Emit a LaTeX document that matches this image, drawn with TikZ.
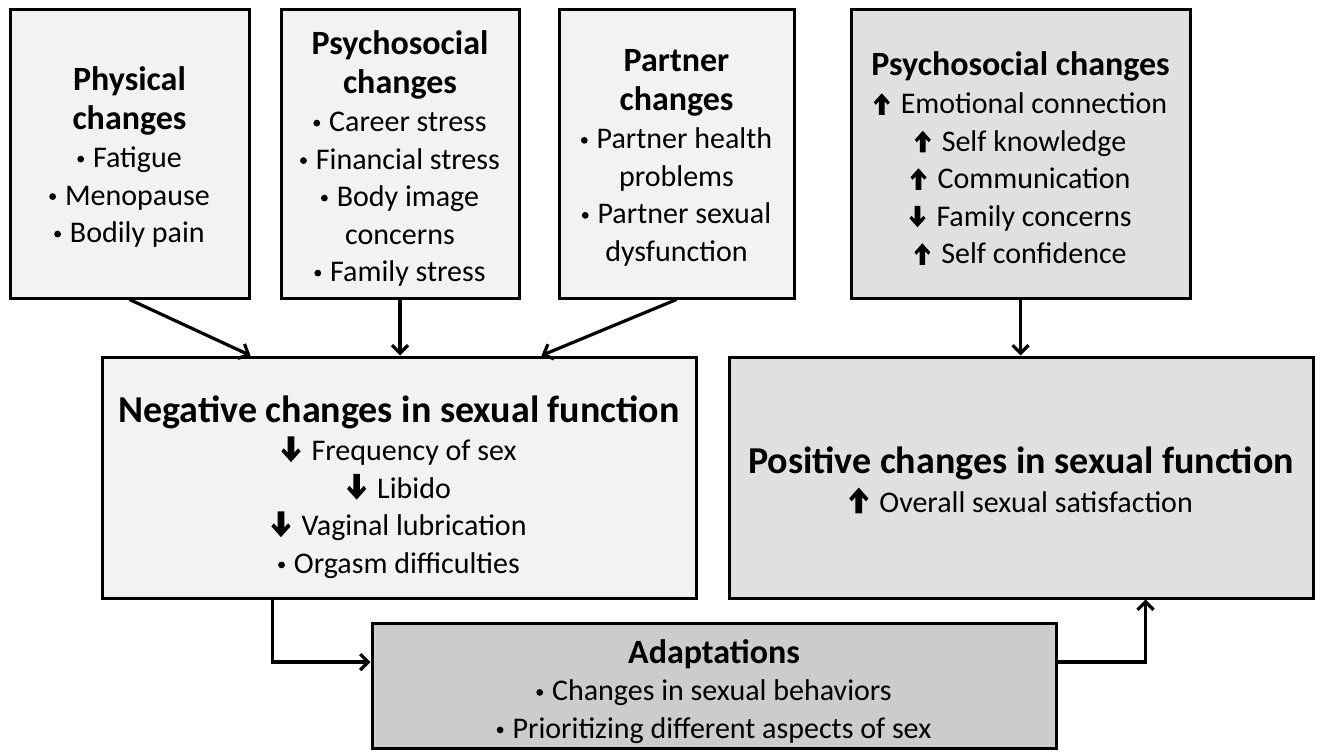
\documentclass[tikz,border=0pt]{standalone}
\usepackage{fontspec}
\setmainfont{Carlito}
\usetikzlibrary{arrows.meta}

% small bold arrows and bullets used in the lists
\newcommand{\uparr}[1][1]{\tikz[x=#1pt,y=#1pt,baseline=0pt]\fill[black] (-2.8,-1) -- (2.8,-1) -- (2.8,12.5) -- (6,9) -- (8,11.5) -- (0,20.5) -- (-8,11.5) -- (-6,9) -- (-2.8,12.5) -- cycle;\hspace{11pt}}
\newcommand{\dnarr}[1][1]{\tikz[x=#1pt,y=#1pt,baseline=0pt]\fill[black] (-2.8,20.5) -- (2.8,20.5) -- (2.8,7) -- (6,10.5) -- (8,8) -- (0,-1) -- (-8,8) -- (-6,10.5) -- (-2.8,7) -- cycle;\hspace{11pt}}
\newcommand{\bul}{\tikz[x=1pt,y=1pt,baseline=0pt]\fill[black] (0,8.5) circle (3.4);\hspace{9pt}}
\newcommand{\hd}[1]{{\fontsize{34}{40}\selectfont\bfseries #1}}
\newcommand{\bighd}[1]{{\fontsize{38}{44}\selectfont\bfseries #1}}

\begin{document}
\begin{tikzpicture}[x=1pt,y=-1pt,
  box/.style={draw,line width=3pt,inner sep=0pt,align=center,font=\fontsize{30}{37.5}\selectfont},
  link/.style={line width=3.2pt,-{Straight Barb[length=8pt,width=16pt]}}]
\definecolor{paleGray}{HTML}{F2F2F2}
\definecolor{midGray}{HTML}{E0E0E0}
\definecolor{darkGray}{HTML}{CCCCCC}
\useasboundingbox (0,0) rectangle (1321,752);

% causes
\node [box,fill=paleGray,minimum width=239pt,minimum height=288pt] (physical) at (129.5,154)
  {\rule{0pt}{30pt}\hd{Physical}\\[1pt]\hd{changes}\\[1pt]\bul Fatigue\\\bul Menopause\\\bul Bodily pain};
\node [box,fill=paleGray,minimum width=238pt,minimum height=288pt] (psychneg) at (400,154)
  {\rule{0pt}{33pt}\hd{Psychosocial}\\[1pt]\hd{changes}\\[1pt]\bul Career stress\\\bul Financial stress\\\bul Body image\\concerns\\\bul Family stress};
\node [box,fill=paleGray,minimum width=235pt,minimum height=288pt] (partner) at (676.5,154)
  {\rule{0pt}{30pt}\hd{Partner}\\[1pt]\hd{changes}\\[1pt]\bul Partner health\\problems\\\bul Partner sexual\\dysfunction};
\node [box,fill=midGray,minimum width=339pt,minimum height=288pt] (psychpos) at (1020.5,154)
  {\rule{0pt}{32pt}\hd{Psychosocial changes}\\[1pt]\uparr Emotional connection\\\uparr Self knowledge\\\uparr Communication\\\dnarr Family concerns\\\uparr Self confidence};

% outcomes
\node [box,fill=paleGray,minimum width=594pt,minimum height=241pt] (negative) at (399,477.5)
  {\rule{0pt}{46pt}\bighd{Negative changes in sexual function}\\[1pt]\dnarr[1.2]Frequency of sex\\\dnarr[1.2]Libido\\\dnarr[1.2]Vaginal lubrication\\\bul Orgasm difficulties};
\node [box,fill=midGray,minimum width=584pt,minimum height=241pt] (positive) at (1021,477.5)
  {\rule{0pt}{32pt}\bighd{Positive changes in sexual function}\\[1pt]\uparr[1.2]Overall sexual satisfaction};
\node [box,fill=darkGray,minimum width=684pt,minimum height=125pt] (adapt) at (714,685.5)
  {\rule{0pt}{36pt}\hd{Adaptations}\\\bul Changes in sexual behaviors\\\bul Prioritizing different aspects of sex};

% connectors
\draw [link] (physical.south) -- ([xshift=150pt]negative.north west);
\draw [link] (psychneg.south) -- (psychneg.south |- negative.north);
\draw [link] (partner.south) -- ([xshift=-156pt]negative.north east);
\draw [link] (psychpos.south) -- (psychpos.south |- positive.north);
\draw [link] ([xshift=172pt]negative.south west) |- ([yshift=23.5pt]adapt.west);
\draw [link] ([yshift=23.5pt]adapt.east) -| ([xshift=418pt]positive.south west);
\end{tikzpicture}
\end{document}
